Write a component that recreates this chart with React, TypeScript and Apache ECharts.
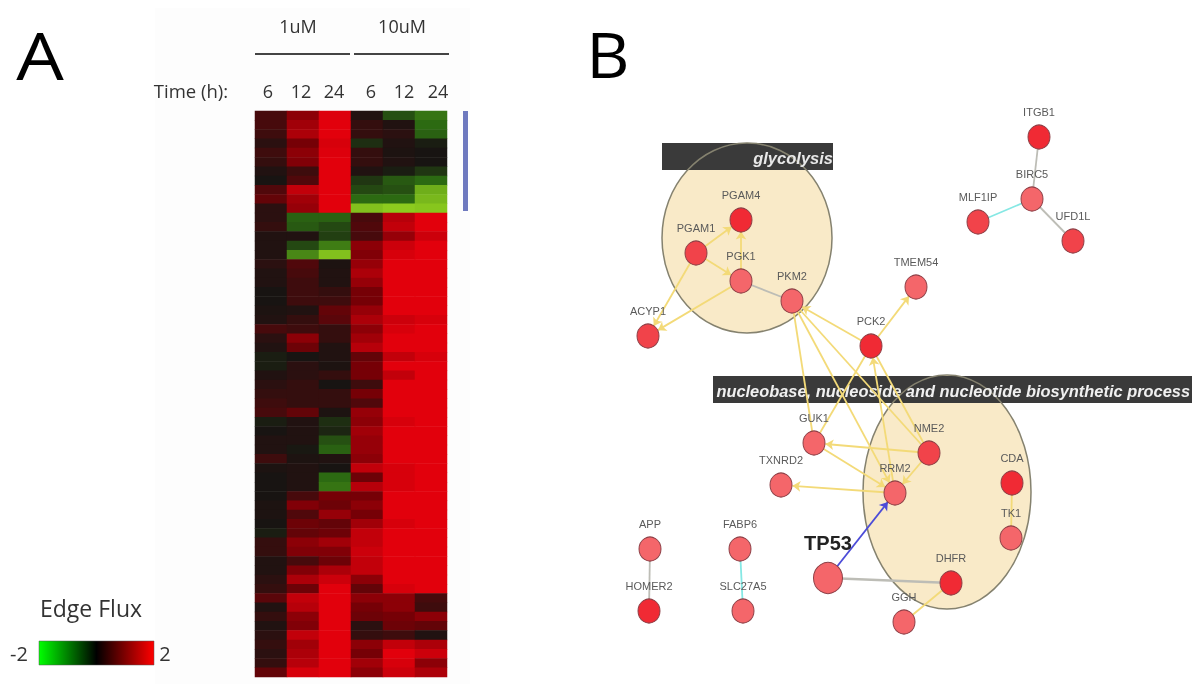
import React, { useEffect, useRef } from "react";
import * as echarts from "echarts";

const FONT = "'Open Sans', sans-serif";
const ARIAL = "'Liberation Sans', Arial, sans-serif";

const timeLabels = ["6", "12", "24", "6", "12", "24"];
const timeLabelX = [268, 301, 334, 371, 404, 438];

// Heatmap columns, top row first
const c1h1uM6 = [.5,.5,.4,.2,.4,.3,.1,0,.6,.8,.2,.2,.3,.1,.1,.1,.2,.1,.1,0,0,.05,.1,.5,.2,.1,-.1,-.1,.1,.2,.3,.4,.5,-.1,0,.1,.1,.4,.05,0,0,0,.05,.05,0,-.1,.3,.3,.1,.1,.2,.3,.7,.1,.3,.1,.2,.3,.2,.3,.8];
const c2h1uM12 = [1.2,1.4,1.5,1,1.2,1.1,.4,.6,1.7,1.4,1.3,-.9,-.8,.1,-.6,-1.3,.6,.5,.4,.4,.4,.1,.3,.4,1.2,.9,0,.2,.2,.3,.3,.3,.8,.1,.1,.1,-.05,.05,.1,.1,.1,.5,1.1,.6,.9,.8,1.2,1.1,.5,1.1,1.5,.9,1.7,1.6,1.2,1.1,1.7,1.4,1.5,1.6,1.9];
const c3h1uM24 = [1.95,2,2,1.9,1.95,2,2,2,2,2,2,-.9,-.6,-.5,-1.2,-1.9,.05,.1,.1,.3,.4,.8,.7,.3,.3,.1,.1,.05,.3,0,.3,.3,.05,-.3,-.2,-.7,-.9,.1,0,-1,-1.1,1,.9,1.3,.8,.9,1.4,1.1,.9,1.5,1.8,2,2,2,2,2,2,2,2,2,2];
const c4h10uM6 = [.1,.3,.3,-.3,.3,.3,.1,-.4,-.6,-1,-1.9,.5,.6,.5,1.2,1.1,1.3,1.5,1.3,1,1,1.3,1.5,1.2,1.4,1.6,.8,1,1,.4,1,.6,1.3,1.2,1.4,1.3,1.3,1.2,1.7,.9,1.6,1,1.2,1,1.4,1.7,1.7,1.8,1.7,1.7,1.2,.8,1.2,1,.9,.2,.3,1.2,1,1.4,1.2];
const c5h10uM12 = [-.7,.1,.2,.1,.05,.1,-.1,-.8,-.7,-1,-2,1.6,1.7,1.3,1.8,1.9,2,2,2,2,2,2,1.8,1.9,2,2,1.7,2,1.7,2,2,2,2,1.9,2,2,2,2,1.9,1.9,1.9,2,2,2,1.9,2,2,2,2,2,2,1.9,1.2,1.2,1,.9,.4,1.7,2,1.9,1.8];
const c6h10uM24 = [-1.1,-1,-.9,-.1,0,0,-.4,-1,-1.7,-1.8,-1.95,2,2,1.8,2,2,2,2,2,2,2,2,1.9,2,2,2,1.9,2,2,2,2,2,2,2,2,2,2,2,2,2,2,2,2,2,2,2,2,2,2,2,2,2,.5,.4,1.2,.8,.1,1.5,1.8,1.2,1.5];
const heatColumns = [c1h1uM6, c2h1uM12, c3h1uM24, c4h10uM6, c5h10uM12, c6h10uM24];

const nodeNames = ["ITGB1","BIRC5","MLF1IP","UFD1L","TMEM54","PGAM4","PGAM1","PGK1","PKM2","ACYP1","PCK2","GUK1","NME2","TXNRD2","RRM2","CDA","TK1","APP","HOMER2","FABP6","SLC27A5","TP53","DHFR","GGH"];
const nodeX = [1039,1032,978,1073,916,741,696,741,792,648,871,814,929,781,895,1012,1011,650,649,740,743,828,951,904];
const nodeY = [137,199,222,241,287,220,253,281,301,336,346,443,453,485,493,483,538,549,611,549,611,578,583,622];
const nodeStrong = [1,0,.5,.5,0,1,.5,0,0,.5,1,0,.5,0,0,1,0,0,1,0,0,0,1,0];

const Y = "#f3da78", GR = "#bdbdb6", CY = "#86e8e4", BL = "#4c4cd8";
// source, target, colour, arrow
const edgeList: [string, string, string, number][] = [
  ["ITGB1","BIRC5",GR,0],["BIRC5","UFD1L",GR,0],["MLF1IP","BIRC5",CY,0],
  ["PGAM1","PGAM4",Y,1],["PGAM1","PGK1",Y,1],["PGK1","PGAM4",Y,1],["PGAM1","ACYP1",Y,1],["PGK1","ACYP1",Y,1],
  ["PGK1","PKM2",GR,0],["PCK2","TMEM54",Y,1],["PCK2","PKM2",Y,1],["PKM2","GUK1",Y,0],["PKM2","RRM2",Y,1],
  ["PKM2","NME2",Y,0],["GUK1","PCK2",Y,0],["RRM2","PCK2",Y,1],["NME2","PCK2",Y,0],["NME2","GUK1",Y,1],
  ["GUK1","RRM2",Y,1],["NME2","RRM2",Y,1],["RRM2","TXNRD2",Y,1],["TP53","RRM2",BL,1],["TP53","DHFR",GR,0],
  ["DHFR","GGH",Y,0],["CDA","TK1",Y,0],["APP","HOMER2",GR,0],["FABP6","SLC27A5",CY,0],
];

const nodeColor = (s: number) => (s === 1 ? "#f02a34" : s === 0.5 ? "#f1434a" : "#f4666a");

export default function App() {
  const ref = useRef<HTMLDivElement>(null);
  useEffect(() => {
    const chart = echarts.init(ref.current!, undefined, { renderer: "svg" });
    const heat: number[][] = [];
    heatColumns.forEach((col, x) => col.forEach((v, y) => heat.push([x, y, v])));
    const txt = (text: string, x: number, y: number, size: number, extra: any = {}, scaleX = 1) => ({
      type: "text", x, y, z: 3, scaleX,
      style: { text, fontSize: size, fontFamily: FONT, fill: "#333333", align: "center", verticalAlign: "middle", ...extra },
    });
    chart.setOption({
      animation: false,
      backgroundColor: "#ffffff",
      grid: [
        { left: 255, top: 111, width: 192, height: 566 },
        { left: 0, top: 0, width: 1200, height: 692 },
      ],
      xAxis: [
        { type: "category", gridIndex: 0, data: timeLabels, show: false },
        { type: "value", gridIndex: 1, min: 0, max: 1200, show: false },
      ],
      yAxis: [
        { type: "category", gridIndex: 0, inverse: true, show: false, data: c1h1uM6.map((_, i) => String(i)) },
        { type: "value", gridIndex: 1, inverse: true, min: 0, max: 692, show: false },
      ],
      visualMap: {
        show: false, seriesIndex: 0, min: -2, max: 2, dimension: 2,
        inRange: { color: ["#8ccb1e", "#2c6a12", "#181412", "#760006", "#e2000c"] },
      },
      series: [
        { type: "heatmap", xAxisIndex: 0, yAxisIndex: 0, data: heat, itemStyle: { borderWidth: 0 }, progressive: 0 },
        {
          type: "graph", coordinateSystem: "cartesian2d", xAxisIndex: 1, yAxisIndex: 1, layout: "none",
          edgeSymbol: ["none", "arrow"], edgeSymbolSize: 8, z: 5,
          data: nodeNames.map((name, i) => {
            const big = name === "TP53";
            return {
              name, value: [nodeX[i], nodeY[i]],
              symbol: "circle",
              symbolSize: big ? [29, 31] : [22, 24],
              itemStyle: { color: nodeColor(nodeStrong[i]), borderColor: "#8c3d44", borderWidth: 1 },
              label: {
                show: true, position: "top", distance: big ? 9 : 7, color: big ? "#222" : "#5a5a5a",
                fontFamily: ARIAL, fontSize: big ? 20 : 11, fontWeight: big ? "bold" : "normal",
              },
            };
          }),
          links: edgeList.map(([source, target, color, arrow]) => ({
            source, target,
            symbol: arrow ? ["none", "arrow"] : ["none", "none"],
            lineStyle: { color, width: source === "TP53" && target === "DHFR" ? 2.5 : 1.8, opacity: 1 },
          })),
        },
      ],
      graphic: [
        { type: "rect", z: 0, shape: { x: 155, y: 8, width: 315, height: 676 }, style: { fill: "#fdfdfd" } },
        { type: "ellipse", z: 1, shape: { cx: 747, cy: 238, rx: 85, ry: 95 }, style: { fill: "#f9eac8" } },
        { type: "ellipse", z: 1, shape: { cx: 947, cy: 492, rx: 84, ry: 117 }, style: { fill: "#f9eac8" } },
        { type: "rect", z: 1, shape: { x: 662, y: 143, width: 171, height: 27 }, style: { fill: "#3a3a3a" } },
        { type: "rect", z: 1, shape: { x: 713, y: 376, width: 479, height: 27 }, style: { fill: "#3a3a3a" } },
        { type: "ellipse", z: 1, shape: { cx: 747, cy: 238, rx: 85, ry: 95 }, style: { fill: "none", stroke: "#85826f", lineWidth: 1.5 } },
        { type: "ellipse", z: 1, shape: { cx: 947, cy: 492, rx: 84, ry: 117 }, style: { fill: "none", stroke: "#85826f", lineWidth: 1.5 } },
        txt("glycolysis", 833, 158, 16.5, { fontFamily: ARIAL, fontWeight: "bold", fontStyle: "italic", fill: "#e8e8e8", align: "right" }),
        txt("nucleobase, nucleoside and nucleotide biosynthetic process", 1190, 391, 16.4, { fontFamily: ARIAL, fontWeight: "bold", fontStyle: "italic", fill: "#f0f0f0", align: "right" }),
        txt("A", 40, 54, 66, { fill: "#000" }, 1.14),
        txt("B", 608, 54, 62, { fill: "#000" }, 1.08),
        txt("1uM", 298, 26, 18),
        txt("10uM", 402, 26, 18),
        { type: "rect", z: 3, shape: { x: 255, y: 53, width: 95, height: 2 }, style: { fill: "#444" } },
        { type: "rect", z: 3, shape: { x: 354, y: 53, width: 95, height: 2 }, style: { fill: "#444" } },
        txt("Time (h):", 191, 90, 18.5),
        ...timeLabels.map((t, i) => txt(t, timeLabelX[i], 91, 18)),
        { type: "rect", z: 3, shape: { x: 463, y: 111, width: 5, height: 100 }, style: { fill: "#6f7abf" } },
        txt("Edge Flux", 91, 608, 23),
        {
          type: "rect", z: 3, shape: { x: 39, y: 641, width: 115, height: 24 },
          style: {
            stroke: "#555", lineWidth: 0.5,
            fill: new echarts.graphic.LinearGradient(0, 0, 1, 0, [
              { offset: 0, color: "#00ff00" }, { offset: 0.5, color: "#000000" }, { offset: 1, color: "#ff0000" },
            ]),
          },
        },
        txt("-2", 19, 653, 20),
        txt("2", 165, 653, 20),
      ],
    });
    return () => chart.dispose();
  }, []);
  return (
    <div
      ref={ref}
      style={{ position: "absolute", left: 0, top: 0, width: 1200, height: 692, filter: "blur(0.6px)" }}
    />
  );
}
